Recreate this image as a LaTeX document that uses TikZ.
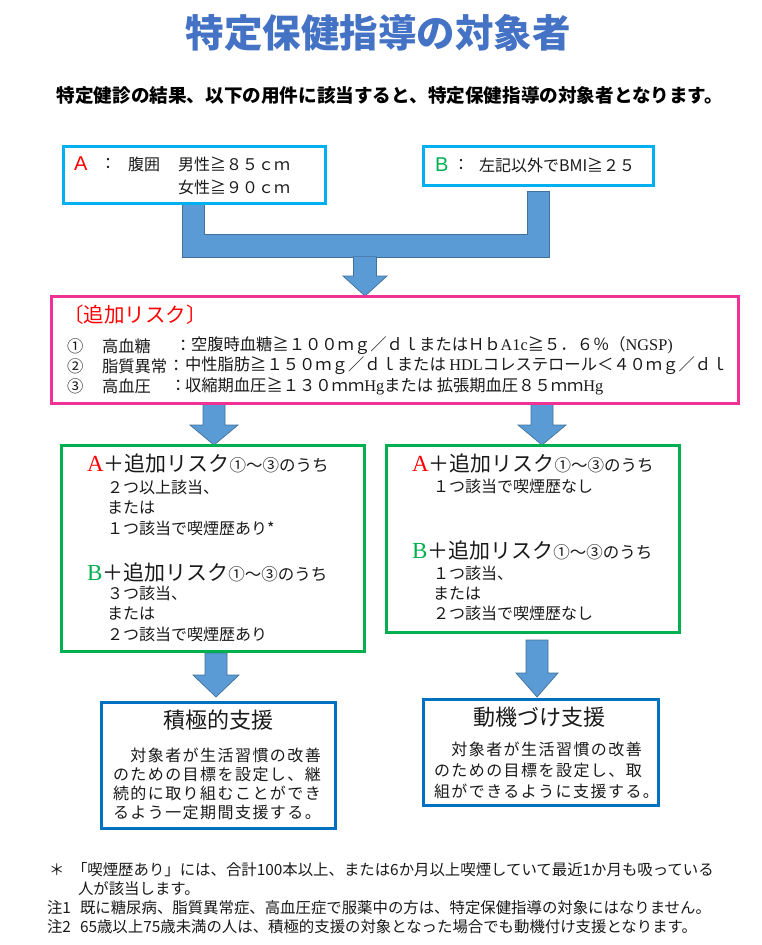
\documentclass[tikz,border=0pt]{standalone}
\usepackage{fontspec}
\setmainfont{Noto Sans CJK JP}
\newfontfamily\serifL{Liberation Serif}
\newfontfamily\sansL{Liberation Sans}
\newcommand\fsz[1]{\fontsize{#1}{#1}\selectfont}
\definecolor{titleblue}{HTML}{4472C4}
\definecolor{cyanbox}{HTML}{00B0F0}
\definecolor{pinkbox}{RGB}{240,50,150}
\definecolor{greenbox}{HTML}{00B050}
\definecolor{bluebox}{HTML}{0070C0}
\definecolor{arrowfill}{HTML}{5B9BD5}
\definecolor{arrowline}{HTML}{41719C}
\definecolor{txt}{HTML}{1A1A1A}
\newcommand\barrow[7]{\filldraw[arrowst] (#1-#5,#2) -- (#1+#5,#2) -- (#1+#5,#3) -- (#1+#6,#3) -- (#1,#4) coordinate (#7) -- (#1-#6,#3) -- (#1-#5,#3) -- cycle;}
\begin{document}
\begin{tikzpicture}[x=1pt,y=-1pt,
  every node/.style={inner sep=0pt,outer sep=0pt,text=txt},
  tx/.style={anchor=west},
  frame/.style={draw,line width=3pt,fill=white,minimum width=#1},
  arrowst/.style={fill=arrowfill,draw=arrowline,line width=0.7pt},
  body/.style={anchor=west,font=\fsz{16}\addfontfeatures{LetterSpace=9}}]
\useasboundingbox (0,0) rectangle (762,945);
\fill[white] (0,0) rectangle (762,945);

% title
\node[font=\bfseries\fsz{38.5},text=titleblue] (title) at (378,33) {特定保健指導の対象者};
\node[font=\bfseries\fsz{18.6},text=black] (sub) at (390,95) {特定健診の結果、以下の用件に該当すると、特定保健指導の対象者となります。};

% connector from A and B
\filldraw[arrowst] (182,202) -- (182,257) -- (549,257) -- (549,191) -- (527,191) -- (527,234) -- (204,234) -- (204,202) -- cycle;
\barrow{365}{256.6}{276}{296}{11.5}{22}{tipmain}

% A / B boxes
\node[frame=262pt,draw=cyanbox,minimum height=57pt] (boxA) at (194,174.5) {};
\node[frame=230pt,draw=cyanbox,minimum height=39pt] (boxB) at (538,165.5) {};
\node[tx,font=\sansL\fsz{20},text=red] (Alab) at (74,164) {A};
\node[tx,font=\fsz{16}] (Acol) at (100,164) {：};
\node[tx,font=\fsz{16}] (Aw) at (128,164) {腹囲};
\node[tx,font=\fsz{16}] (Am) at (178,164) {男性≧８５ｃｍ};
\node[tx,font=\fsz{16}] (Af) at (178,187) {女性≧９０ｃｍ};
\node[tx,font=\sansL\fsz{20},text=greenbox] (Blab) at (435,165) {B};
\node[tx,font=\fsz{16}] (Bcol) at (453,165) {：};
\node[tx,font=\fsz{16}] (Bt) at (479,165) {左記以外でBMI≧２５};

% small arrows
\barrow{214}{404}{425}{445}{11}{24}{tipL}
\barrow{542}{404}{425}{445}{11}{24}{tipR}
\barrow{216}{653}{675}{697}{11}{23}{tipL2}
\barrow{537}{640}{673}{697}{11}{21}{tipR2}

% pink box
\node[frame=687pt,draw=pinkbox,minimum height=107pt] (risk) at (394.5,349.5) {};
\node[tx,font=\fsz{20.5},text=red] (rh) at (63,315) {〔追加リスク〕};
\begin{scope}[every node/.append style={tx,font=\fsz{16.3}}]
\node (n1) at (67,346) {①};
\node (l1) at (102,346) {高血糖};
\node (c1) at (175,346) {：};
\node (r1) at (191,346) {空腹時血糖≧１００ｍｇ／ｄｌまたはＨｂ{\serifL A1c}≧５．６％（{\serifL NGSP)}};
\node (n2) at (67,366) {②};
\node (l2) at (102,366) {脂質異常};
\node (c2) at (168,366) {：};
\node (r2) at (185,366) {中性脂肪≧１５０ｍｇ／ｄｌまたは {\serifL HDL}コレステロール＜４０ｍｇ／ｄｌ};
\node (n3) at (67,386) {③};
\node (l3) at (102,386) {高血圧};
\node (c3) at (170,386) {：};
\node (r3) at (185,386) {収縮期血圧≧１３０ｍｍ{\serifL Hg}または 拡張期血圧８５ｍｍ{\serifL Hg}};
\end{scope}

% green boxes
\node[frame=303pt,draw=greenbox,minimum height=206pt] (gl) at (212.5,548) {};
\node[frame=293pt,draw=greenbox,minimum height=187pt] (gr) at (532.5,538.5) {};
\newcommand\hdr[1]{{\serifL\fsz{23}#1}{\fsz{21}＋追加リスク}{\fsz{16.5}①～③のうち}}
\node[tx] (glA) at (87,463) {\hdr{\textcolor{red}{A}}};
\node[tx,font=\fsz{16}] (glA1) at (107,487) {２つ以上該当、};
\node[tx,font=\fsz{16}] (glA2) at (107,507.5) {または};
\node[tx,font=\fsz{16}] (glA3) at (107,528) {１つ該当で喫煙歴あり*};
\node[tx] (glB) at (87,572) {\hdr{\textcolor{greenbox}{B}}};
\node[tx,font=\fsz{16}] (glB1) at (107,593) {３つ該当、};
\node[tx,font=\fsz{16}] (glB2) at (107,613.5) {または};
\node[tx,font=\fsz{16}] (glB3) at (107,634) {２つ該当で喫煙歴あり};
\node[tx] (grA) at (412,463) {\hdr{\textcolor{red}{A}}};
\node[tx,font=\fsz{16}] (grA1) at (433,486) {１つ該当で喫煙歴なし};
\node[tx] (grB) at (412,550) {\hdr{\textcolor{greenbox}{B}}};
\node[tx,font=\fsz{16}] (grB1) at (433,573) {１つ該当、};
\node[tx,font=\fsz{16}] (grB2) at (433,593) {または};
\node[tx,font=\fsz{16}] (grB3) at (433,613) {２つ該当で喫煙歴なし};

% blue boxes
\node[frame=234pt,draw=bluebox,minimum height=126pt] (bl) at (218,765) {};
\node[frame=235pt,draw=bluebox,minimum height=106pt] (br) at (540.5,752) {};
\node[font=\fsz{22}] (blt) at (218,720) {積極的支援};
\node[font=\fsz{22}] (brt) at (539,717) {動機づけ支援};
\foreach \t [count=\i from 0] in {{　対象者が生活習慣の改善},{のための目標を設定し、継},{続的に取り組むことができ},{るよう一定期間支援する。}}
  \node[body] (bll\i) at (113,755+19*\i) {\t};
\foreach \t [count=\i from 0] in {{　対象者が生活習慣の改善},{のための目標を設定し、取},{組ができるように支援する。}}
  \node[body] (brl\i) at (434,749+21*\i) {\t};

% footnotes
\begin{scope}[every node/.append style={tx,font=\fsz{15.4}}]
\node (f0) at (49,870) {＊};
\node (f1) at (72,870) {「喫煙歴あり」には、合計100本以上、または6か月以上喫煙していて最近1か月も吸っている};
\node (f2) at (78,889) {人が該当します。};
\node (f3a) at (47,908) {注1};
\node (f3) at (80,908) {既に糖尿病、脂質異常症、高血圧症で服薬中の方は、特定保健指導の対象にはなりません。};
\node (f4a) at (47,927) {注2};
\node (f4) at (80,927) {65歳以上75歳未満の人は、積極的支援の対象となった場合でも動機付け支援となります。};
\end{scope}
\end{tikzpicture}
\end{document}
